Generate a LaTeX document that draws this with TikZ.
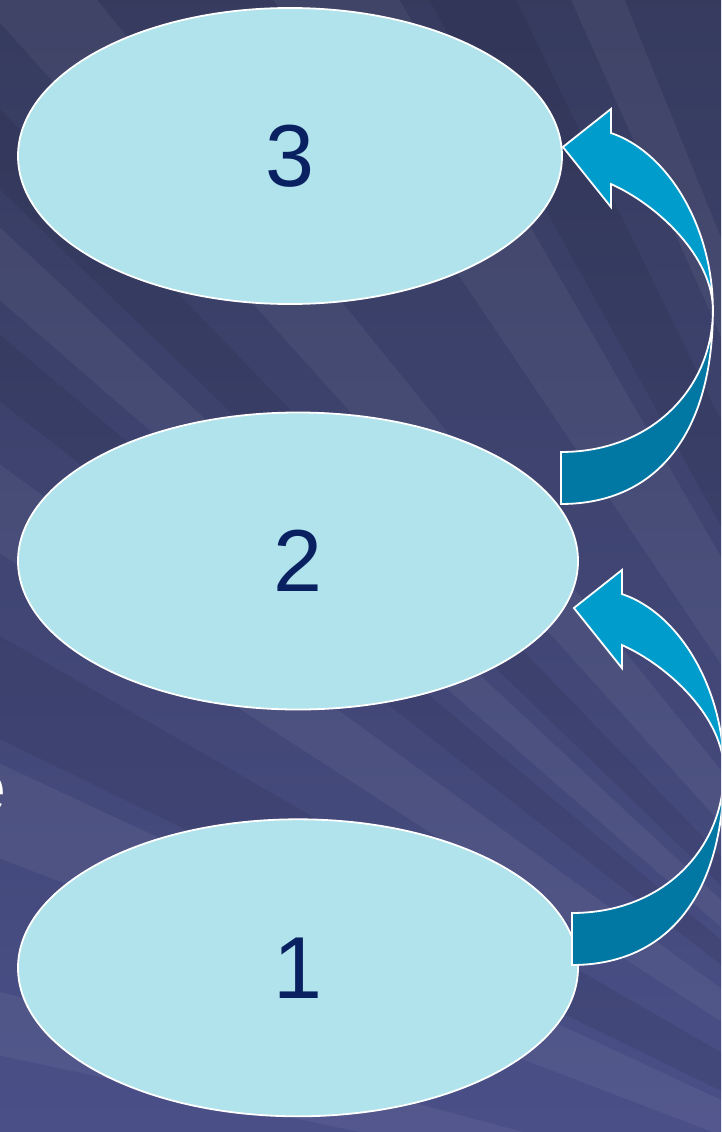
\documentclass[tikz,border=0pt]{standalone}
\usepackage{fontspec}
\setmainfont{Liberation Sans}
\usepackage{xcolor}
\usepackage{tikz}
\usetikzlibrary{shapes.geometric, arrows, positioning}
\definecolor{mynavy}{rgb}{0.04, 0.13, 0.38}
\definecolor{mycyan}{rgb}{0.69, 0.89, 0.92}
\definecolor{mysky}{rgb}{0.00, 0.61, 0.80}
\definecolor{myteal}{rgb}{0.00, 0.47, 0.64}
\definecolor{bgtop}{rgb}{0.21, 0.23, 0.37}
\definecolor{bgbottom}{rgb}{0.29, 0.31, 0.53}
\usetikzlibrary{calc}
\tikzstyle{bubble} = [ellipse, draw=white, line width=1.8pt, fill=mycyan, text=mynavy, font=\fontsize{88}{100}\selectfont]
\tikzstyle{ray} = [white, opacity=0.05]
\tikzstyle{dimray} = [black, opacity=0.07]
\tikzset{
    bendarrow/.pic={
        % head and upper half
        \filldraw[arrowtop] (150,163) .. controls (150,110) and (95,58) .. (48,37)
            -- (48,60) -- (0,0) -- (48,-38) -- (48,-14)
            .. controls (105,5) and (150,80) .. (150,163) -- cycle;
        % tail and lower half
        \filldraw[arrowbottom] (150,163) .. controls (150,285) and (95,357) .. (-2,357)
            -- (-2,305) .. controls (90,305) and (150,240) .. (150,163) -- cycle;
    }
}

\begin{document}
\begin{tikzpicture}[
    x=1pt, y=-1pt,
    arrowtop/.style={fill=mysky, draw=white, line width=1.8pt},
    arrowbottom/.style={fill=myteal, draw=white, line width=1.8pt}
]
    \useasboundingbox (0,0) rectangle (721,1132);
    \clip (0,0) rectangle (721,1132);
    \fill[top color=bgtop, bottom color=bgbottom] (0,0) rectangle (721,1132);

    % streaks
    \coordinate (focus) at (1150,1300);
    \foreach \from/\to in {12/15, 21/25, 33/36, 41/43, 48/51, 56/60, 66/68}
        \fill[ray] (focus) -- ($(focus)+(180+\from:2500)$) -- ($(focus)+(180+\to:2500)$) -- cycle;
    \foreach \from/\to in {26/30, 38/40, 44/46, 61/64}
        \fill[dimray] (focus) -- ($(focus)+(180+\from:2500)$) -- ($(focus)+(180+\to:2500)$) -- cycle;

    \node[anchor=base east, inner sep=0pt, text=white, font=\fontsize{72}{80}\selectfont]
        (cut) at (7,812) {e};

    \node[bubble, minimum width=544pt, minimum height=296pt] (upper) at (290,156) {3};

    \node[bubble, minimum width=560pt, minimum height=297pt] (middle) at (298,561)
        {\raisebox{-4pt}{2}};

    \node[bubble, minimum width=560pt, minimum height=297pt, below=108pt of middle]
        (lower) {\raisebox{-7pt}{1}};

    \pic at ($(upper.east)+(0,-9)$) {bendarrow};
    \pic at ($(middle.east)+(-5,47)$) {bendarrow};
\end{tikzpicture}
\end{document}
